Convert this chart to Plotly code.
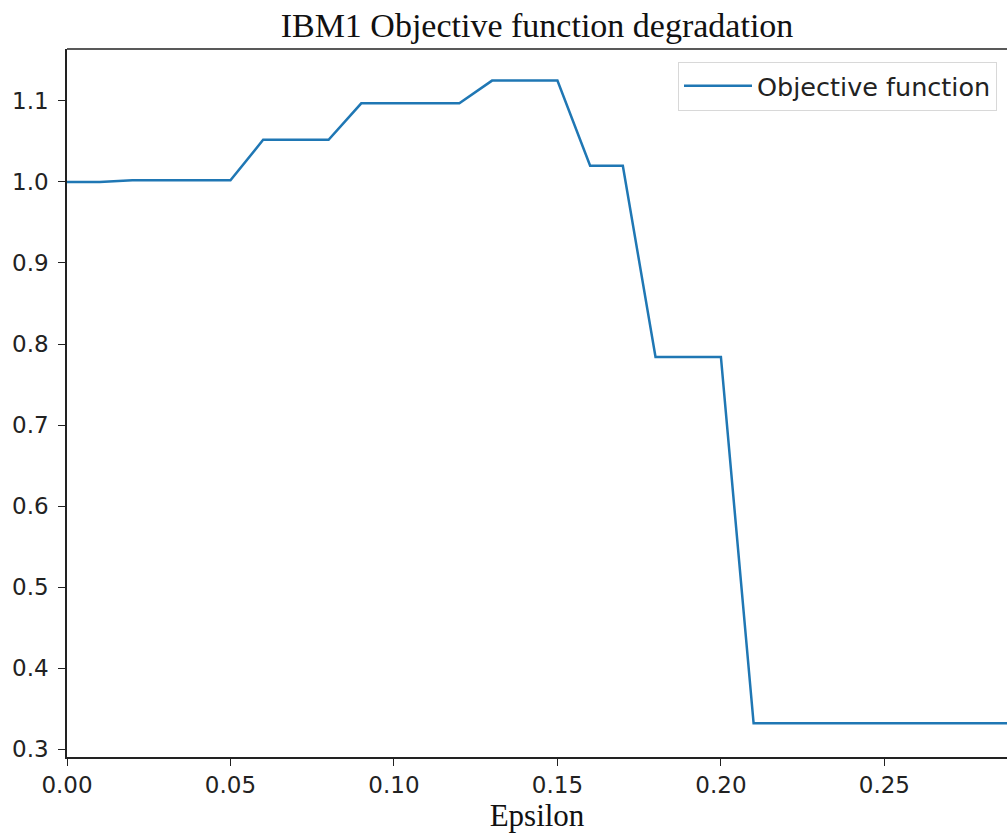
import plotly.graph_objects as go

# Epsilon sweep and the normalised objective value at each step
epsilon = [0.00, 0.01, 0.02, 0.03, 0.04, 0.05, 0.06, 0.07, 0.08, 0.09,
           0.10, 0.11, 0.12, 0.13, 0.14, 0.15, 0.16, 0.17, 0.18, 0.19,
           0.20, 0.21, 0.22, 0.23, 0.24, 0.25, 0.26, 0.27, 0.28, 0.29, 0.30]
objective = [1.000, 1.000, 1.002, 1.002, 1.002, 1.002, 1.052, 1.052, 1.052, 1.097,
             1.097, 1.097, 1.097, 1.125, 1.125, 1.125, 1.020, 1.020, 0.784, 0.784,
             0.784, 0.332, 0.332, 0.332, 0.332, 0.332, 0.332, 0.332, 0.332, 0.332, 0.332]

x_ticks = [0.00, 0.05, 0.10, 0.15, 0.20, 0.25]
x_tick_text = ["0.00", "0.05", "0.10", "0.15", "0.20", "0.25"]
y_ticks = [0.3, 0.4, 0.5, 0.6, 0.7, 0.8, 0.9, 1.0, 1.1]
y_tick_text = ["0.3", "0.4", "0.5", "0.6", "0.7", "0.8", "0.9", "1.0", "1.1"]

fig = go.Figure()
fig.add_trace(go.Scatter(
    x=epsilon, y=objective, mode="lines", name="Objective function",
    line=dict(color="#1f77b4", width=2.5),
))

tick_font = dict(family="DejaVu Sans", size=23, color="#222222")

fig.update_layout(
    width=1007, height=834,
    margin=dict(l=67, r=0, t=49, b=77),
    paper_bgcolor="white", plot_bgcolor="white",
    title=dict(text="IBM1 Objective function degradation",
               font=dict(family="Liberation Serif", size=34, color="#111111"),
               x=0.5, xref="paper", xanchor="center",
               y=1 - 25 / 834, yref="container", yanchor="middle"),
    xaxis=dict(range=[0, 0.2875], tickvals=x_ticks, ticktext=x_tick_text,
               showgrid=False, zeroline=False, showline=True,
               linecolor="#222222", linewidth=1.5, ticks="outside",
               ticklen=7, tickwidth=1.3, tickcolor="#222222", tickfont=tick_font,
               title=dict(text="Epsilon",
                          font=dict(family="Liberation Serif", size=31, color="#111111"),
                          standoff=6)),
    yaxis=dict(range=[0.2905, 1.164], tickvals=y_ticks, ticktext=y_tick_text,
               showgrid=False, zeroline=False, showline=True,
               linecolor="#222222", linewidth=1.5, ticks="outside",
               ticklen=7, tickwidth=1.3, tickcolor="#222222", tickfont=tick_font,
               ticklabelstandoff=5),
    legend=dict(x=0.65, y=0.982, xanchor="left", yanchor="top",
                bgcolor="white", bordercolor="#d8d8d8", borderwidth=1,
                itemwidth=68,
                font=dict(family="DejaVu Sans", size=25.5, color="#222222")),
    showlegend=True,
)

# top spine of the axes box
fig.add_shape(type="line", xref="paper", yref="paper", x0=0, x1=1, y0=1, y1=1,
              line=dict(color="#222222", width=1.5))

fig.write_html("out.html")
